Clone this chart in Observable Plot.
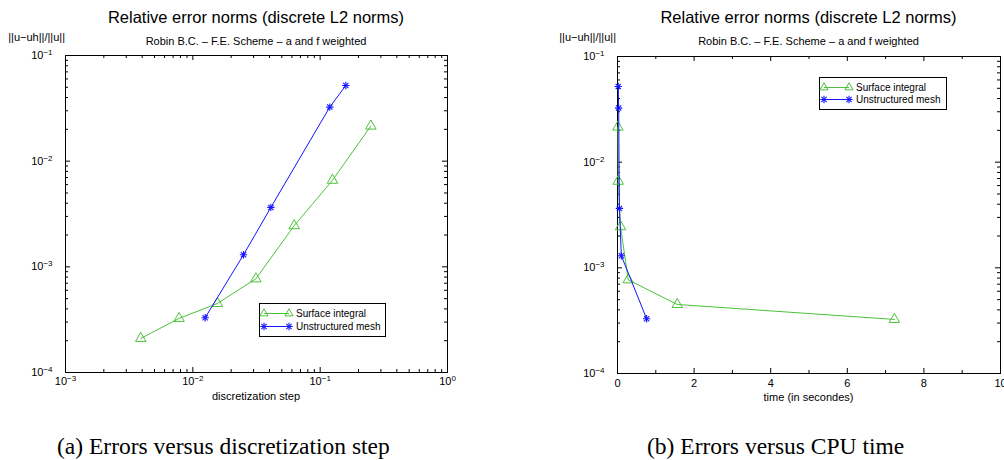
<!DOCTYPE html>
<html>
<head>
<meta charset="utf-8">
<script src="https://cdn.jsdelivr.net/npm/d3@7"></script>
<script src="https://cdn.jsdelivr.net/npm/@observablehq/plot@0.6"></script>
<style>
  html, body { margin: 0; padding: 0; background: #fff; overflow: hidden; }
  #wrap { position: relative; width: 1004px; height: 460px; }
  #left, #right { position: absolute; top: 0; }
  #left { left: 0; }
  #right { left: 502px; }
  svg { overflow: visible; }
</style>
</head>
<body>
<div id="wrap"><div id="left"></div><div id="right"></div></div>
<script>
// ---- data ----
const seriesNames = ["Surface integral", "Unstructured mesh"];
const seriesColors = ["#4cc23a", "#1414ff"];

// (a) error vs discretization step
const hSurface = [0.0039, 0.0078, 0.0156, 0.03125, 0.0625, 0.125, 0.25];
const errSurface = [2.1e-4, 3.25e-4, 4.5e-4, 7.7e-4, 2.45e-3, 6.6e-3, 2.15e-2];
const hUnstructured = [0.0125, 0.025, 0.041, 0.119, 0.159];
const errUnstructured = [3.3e-4, 1.3e-3, 3.65e-3, 3.25e-2, 5.2e-2];

// (b) error vs CPU time
const timeSurface = [7.23, 1.56, 0.28, 0.08, 0.02, 0.01];
const errSurfaceTime = [3.25e-4, 4.5e-4, 7.7e-4, 2.45e-3, 6.6e-3, 2.15e-2];
const timeUnstructured = [0.76, 0.1, 0.05, 0.03, 0.02];
const errUnstructuredTime = [3.3e-4, 1.3e-3, 3.65e-3, 3.25e-2, 5.2e-2];

// axes
const yDecades = [1e-4, 1e-3, 1e-2, 1e-1];
const xDecades = [1e-3, 1e-2, 1e-1, 1];
const timeTicksLabeled = [0, 2, 4, 6, 8, 10];
const timeTicksMinor = [1, 3, 5, 7, 9];

// texts
const titleText = "Relative error norms (discrete L2 norms)";
const subtitleText = "Robin B.C. \u2013 F.E. Scheme \u2013 a and f weighted";
const yLabelText = "||u\u2212uh||/||u||";
const xLabelA = "discretization step";
const xLabelB = "time (in secondes)";
const captionA = "(a) Errors versus discretization step";
const captionB = "(b) Errors versus CPU time";

// ---- helpers ----
function minorLog(decades) {
  const out = [];
  for (let i = 0; i < decades.length - 1; i++)
    for (let k = 2; k <= 9; k++) out.push(decades[i] * k);
  return out;
}
const yMinor = minorLog(yDecades);
const xMinor = minorLog(xDecades);
const supFmt = d => "10^" + Math.round(Math.log10(d));

function boxTicksX(values, len, innerH) {
  return [
    Plot.tickX(values, {x: d => d, insetTop: innerH - len, stroke: "black", strokeWidth: 1}),
    Plot.tickX(values, {x: d => d, insetBottom: innerH - len, stroke: "black", strokeWidth: 1})
  ];
}
function boxTicksY(values, len, innerW) {
  return [
    Plot.tickY(values, {y: d => d, insetRight: innerW - len, stroke: "black", strokeWidth: 1}),
    Plot.tickY(values, {y: d => d, insetLeft: innerW - len, stroke: "black", strokeWidth: 1})
  ];
}
function seriesMarks(xs, ys, color, kind) {
  const data = xs.map((x, i) => ({x, y: ys[i]}));
  const marks = [Plot.line(data, {x: "x", y: "y", stroke: color, strokeWidth: 1})];
  if (kind === "tri") {
    marks.push(Plot.dot(data, {x: "x", y: "y", symbol: "triangle", r: 3.9, stroke: color, strokeWidth: 1, fill: "none"}));
  } else {
    marks.push(Plot.dot(data, {x: "x", y: "y", symbol: "plus", r: 2.5, stroke: color, strokeWidth: 1.1}));
    marks.push(Plot.dot(data, {x: "x", y: "y", symbol: "times", r: 2.5, stroke: color, strokeWidth: 1.1}));
  }
  return marks;
}

function supify(svg) {
  d3.select(svg).selectAll("text").each(function () {
    const t = this.textContent;
    const m = /^10\^(-?\d+)$/.exec(t);
    if (!m) return;
    const sel = d3.select(this);
    sel.text(null);
    sel.append("tspan").text("10");
    sel.append("tspan").attr("dy", "-4").attr("font-size", "8px").text(m[1].replace("-", "\u2212"));
  });
}

function addTexts(svg, cx, opts) {
  const s = d3.select(svg);
  const g = s.append("g").attr("font-family", "'Liberation Sans', Arial, sans-serif").attr("fill", "black");
  g.append("text").attr("x", cx).attr("y", 23).attr("text-anchor", "middle").attr("font-size", "16.5px").text(titleText);
  g.append("text").attr("x", cx).attr("y", 45).attr("text-anchor", "middle").attr("font-size", "11px").text(subtitleText);
  g.append("text").attr("x", opts.ylabX).attr("y", 41).attr("text-anchor", "end").attr("font-size", "11px").text(yLabelText);
  g.append("text").attr("x", cx).attr("y", opts.xlabY).attr("text-anchor", "middle").attr("font-size", "11px").text(opts.xlab);
  s.append("text").attr("x", opts.capX).attr("y", 454).attr("text-anchor", "start")
    .attr("font-family", "'Liberation Serif', 'Times New Roman', serif")
    .attr("font-size", "23.5px").attr("fill", "black").text(opts.caption);
}

function addLegend(svg, x0, y0, w, h, rowYs) {
  const g = d3.select(svg).append("g").attr("font-family", "'Liberation Sans', Arial, sans-serif")
    .attr("font-size", "10px").attr("text-anchor", "start");
  g.append("rect").attr("x", x0 + 0.5).attr("y", y0 + 0.5).attr("width", w).attr("height", h)
    .attr("fill", "white").attr("stroke", "black").attr("stroke-width", 1);
  const triPath = d3.symbol(d3.symbolTriangle2, 3.9 * 3.9 * Math.PI)();
  const plusPath = d3.symbol(d3.symbolPlus, 2.5 * 2.5 * Math.PI)();
  const timesPath = d3.symbol(d3.symbolTimes, 2.5 * 2.5 * Math.PI)();
  seriesNames.forEach((name, i) => {
    const y = rowYs[i];
    const c = seriesColors[i];
    const x1 = x0 + 5, x2 = x0 + 30;
    g.append("line").attr("x1", x1).attr("x2", x2).attr("y1", y).attr("y2", y).attr("stroke", c);
    [x1, x2].forEach(px => {
      if (i === 0) {
        g.append("path").attr("d", triPath).attr("transform", `translate(${px},${y})`).attr("fill", "none").attr("stroke", c);
      } else {
        g.append("path").attr("d", plusPath).attr("transform", `translate(${px},${y})`).attr("fill", "none").attr("stroke", c).attr("stroke-width", 1.1);
        g.append("path").attr("d", timesPath).attr("transform", `translate(${px},${y})`).attr("fill", "none").attr("stroke", c).attr("stroke-width", 1.1);
      }
    });
    g.append("text").attr("x", x0 + 37).attr("y", y).attr("dy", "0.35em").attr("text-anchor", "start").text(name);
  });
}

const baseStyle = {fontFamily: "'Liberation Sans', Arial, sans-serif", fontSize: "11px", background: "white", color: "black"};

// ---- (a) ----
{
  const W = 502, H = 460, mL = 65, mR = 55, mT = 55, mB = 88;
  const innerW = W - mL - mR, innerH = H - mT - mB;
  const svg = Plot.plot({
    width: W, height: H, marginLeft: mL, marginRight: mR, marginTop: mT, marginBottom: mB,
    style: baseStyle,
    x: {type: "log", domain: [1e-3, 1]},
    y: {type: "log", domain: [1e-4, 1e-1]},
    marks: [
      Plot.frame({stroke: "black", strokeWidth: 1}),
      ...boxTicksX(xDecades, 5, innerH),
      ...boxTicksX(xMinor, 3, innerH),
      ...boxTicksY(yDecades, 5, innerW),
      ...boxTicksY(yMinor, 3, innerW),
      Plot.axisX(xDecades, {tickSize: 0, tickPadding: 5, tickFormat: supFmt, label: null, fontSize: 11}),
      Plot.axisY(yDecades, {tickSize: 0, tickPadding: 13, tickFormat: supFmt, label: null, fontSize: 11}),
      ...seriesMarks(hSurface, errSurface, seriesColors[0], "tri"),
      ...seriesMarks(hUnstructured, errUnstructured, seriesColors[1], "star")
    ]
  });
  supify(svg);
  addTexts(svg, mL + innerW / 2, {ylabX: 65, xlabY: 400, xlab: xLabelA, capX: 57, caption: captionA});
  addLegend(svg, 259, 303, 126, 33, [313.5, 326.5]);
  document.getElementById("left").appendChild(svg);
}

// ---- (b) ----
{
  const W = 502, H = 460, mL = 115, mR = 4, mT = 56, mB = 87;
  const innerW = W - mL - mR, innerH = H - mT - mB;
  const svg = Plot.plot({
    width: W, height: H, marginLeft: mL, marginRight: mR, marginTop: mT, marginBottom: mB,
    style: baseStyle,
    x: {type: "linear", domain: [0, 10]},
    y: {type: "log", domain: [1e-4, 1e-1]},
    marks: [
      Plot.frame({stroke: "black", strokeWidth: 1}),
      ...boxTicksX(timeTicksLabeled, 5, innerH),
      ...boxTicksX(timeTicksMinor, 3, innerH),
      ...boxTicksY(yDecades, 5, innerW),
      ...boxTicksY(yMinor, 3, innerW),
      Plot.axisX(timeTicksLabeled, {tickSize: 0, tickPadding: 6, tickFormat: d => String(d), label: null, fontSize: 11}),
      Plot.axisY(yDecades, {tickSize: 0, tickPadding: 13, tickFormat: supFmt, label: null, fontSize: 11}),
      ...seriesMarks(timeSurface, errSurfaceTime, seriesColors[0], "tri"),
      ...seriesMarks(timeUnstructured, errUnstructuredTime, seriesColors[1], "star")
    ]
  });
  supify(svg);
  addTexts(svg, mL + innerW / 2, {ylabX: 114, xlabY: 401, xlab: xLabelB, capX: 145, caption: captionB});
  addLegend(svg, 317, 77, 127, 32, [87.5, 99.5]);
  document.getElementById("right").appendChild(svg);
}
</script>
</body>
</html>
